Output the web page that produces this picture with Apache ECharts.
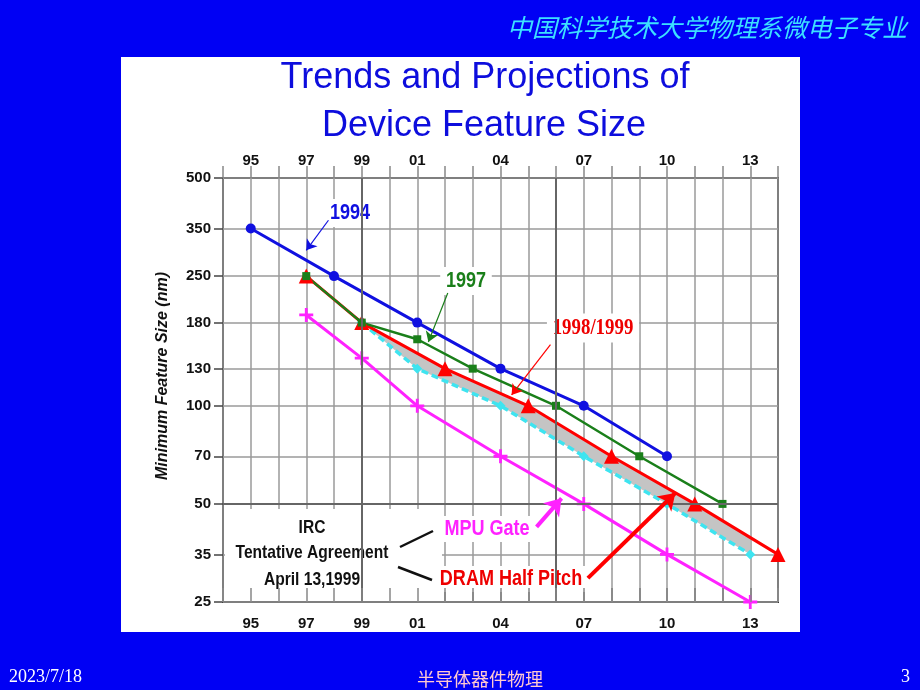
<!DOCTYPE html>
<html>
<head>
<meta charset="utf-8">
<script src="https://cdn.jsdelivr.net/npm/echarts@6/dist/echarts.min.js"></script>
<style>
html, body { margin: 0; padding: 0; background: #0000f4; }
#panel { position: absolute; left: 121px; top: 57px; width: 679px; height: 575px; background: #fff; }
#chart { position: absolute; left: 0; top: 0; width: 920px; height: 690px; }
</style>
</head>
<body>
<div id="panel"></div>
<div id="chart"></div>
<script>
// axis ticks
const yearLabels = [1995, 1997, 1999, 2001, 2004, 2007, 2010, 2013];
const sizeTicks = [25, 35, 50, 70, 100, 130, 180, 250, 350, 500];

// roadmap series (year, minimum feature size in nm)
const years1994 = [1995, 1998, 2001, 2004, 2007, 2010];
const sizes1994 = [350, 250, 180, 130, 100, 70];
const years1997 = [1997, 1999, 2001, 2003, 2006, 2009, 2012];
const sizes1997 = [250, 180, 160, 130, 100, 70, 50];
const years1999 = [1997, 1999, 2002, 2005, 2008, 2011, 2014];
const sizes1999 = [250, 180, 130, 100, 70, 50, 35];
const yearsLow = [1999, 2001, 2004, 2007, 2010, 2013];
const sizesLow = [180, 130, 100, 70, 50, 35];
const yearsMpu = [1997, 1999, 2001, 2004, 2007, 2010, 2013];
const sizesMpu = [190, 140, 100, 70, 50, 35, 25];

// annotation arrows, in data coords: [from, to]
const arrow1994 = [[1997.8, 371], [1997.0, 300]];
const arrow1997 = [[2002.1, 222], [2001.4, 157]];
const arrow1999 = [[2005.8, 154], [2004.4, 108]];
const arrowMpu = [[2005.3, 42.5], [2006.2, 52]];
const arrowDram = [[2007.15, 29.6], [2010.3, 54]];

const SANS = '"Liberation Sans", Arial, sans-serif';
const pairs = (xs, ys) => xs.map((x, i) => [x, ys[i]]);

function arrow(pts, color, width, head) {
    return {
        silent: true,
        symbol: ['none', 'arrow'],
        symbolSize: [head, head],
        label: { show: false },
        lineStyle: { color: color, width: width, type: 'solid' },
        data: [[{ coord: pts[0] }, { coord: pts[1] }]],
    };
}

// narrow bold label (the slide uses a condensed face)
function note(text, x, y, color, size, family, pad) {
    return {
        type: 'text', x: x, y: y, z: 4, scaleX: 0.82,
        style: {
            text: text, fill: color, font: 'bold ' + size + 'px ' + (family || SANS),
            align: 'center', verticalAlign: 'middle',
            backgroundColor: pad ? '#fff' : null, padding: pad || 0,
        },
    };
}

// grey band between DRAM half pitch line and the dashed lower line
function renderBand(params, api) {
    const lower = yearsLow.map((x, i) => api.coord([x, sizesLow[i]]));
    const x0 = lower[0][0], x1 = lower[lower.length - 1][0];
    const red = years1999.map((x, i) => api.coord([x, sizes1999[i]]));
    const upper = [];
    for (let i = 0; i < red.length; i++) {
        const p = red[i];
        if (p[0] >= x0 - 0.5 && p[0] <= x1) {
            upper.push(p);
        } else if (p[0] > x1 && i > 0 && red[i - 1][0] < x1) {
            const q = red[i - 1];
            const t = (x1 - q[0]) / (p[0] - q[0]);
            upper.push([x1, q[1] + t * (p[1] - q[1])]);
        }
    }
    return {
        type: 'polygon',
        shape: { points: upper.concat(lower.slice().reverse()) },
        style: { fill: '#c4c4c4' },
    };
}

const chart = echarts.init(document.getElementById('chart'), null, { renderer: 'canvas' });

const tickLabel = { fontFamily: SANS, fontWeight: 'bold', fontSize: 15, color: '#111' };
const yy = v => String(v % 100).padStart(2, '0');

chart.setOption({
    animation: false,
    backgroundColor: 'transparent',
    grid: { left: 223, top: 178, right: 142, bottom: 88, show: true, borderColor: '#333', borderWidth: 2, backgroundColor: 'transparent' },
    xAxis: [
        {
            type: 'value', position: 'bottom', min: 1994, max: 2014, interval: 1,
            axisLine: { show: false },
            axisTick: { inside: true, length: 14, lineStyle: { color: '#888', width: 1.5 } },
            axisLabel: Object.assign({ customValues: yearLabels, margin: 14, formatter: yy }, tickLabel),
            splitLine: { show: true, lineStyle: { color: '#9a9a9a', width: 1.5 } },
        },
        {
            type: 'value', position: 'top', min: 1994, max: 2014, interval: 1,
            axisLine: { show: false },
            axisTick: { inside: false, length: 12, lineStyle: { color: '#888', width: 1.5 } },
            axisLabel: Object.assign({ customValues: yearLabels, margin: 10, formatter: yy }, tickLabel),
            splitLine: { show: false },
        },
        {
            type: 'value', position: 'bottom', min: 1994, max: 2014, interval: 1, z: 6,
            axisLine: { show: false },
            axisTick: { inside: true, length: 14, lineStyle: { color: '#888', width: 1.5 } },
            axisLabel: { show: false },
            splitLine: { show: false },
        },
    ],
    yAxis: {
        type: 'log', logBase: 10, min: 25, max: 500,
        axisLine: { show: false },
        axisTick: { customValues: sizeTicks, length: 9, lineStyle: { color: '#444', width: 1.5 } },
        axisLabel: Object.assign({ customValues: sizeTicks, margin: 12, formatter: v => String(Math.round(v)) }, tickLabel),
        splitLine: { show: true, lineStyle: { color: '#9a9a9a', width: 1.5 } },
        name: 'Minimum Feature Size (nm)',
        nameLocation: 'middle',
        nameGap: 52,
        nameTextStyle: { fontFamily: SANS, fontStyle: 'italic', fontWeight: 'bold', fontSize: 16, color: '#111', padding: [0, 0, 0, 28] },
    },
    series: [
        {
            // darker guide lines of the original grid
            type: 'line', data: [], silent: true,
            markLine: {
                silent: true, symbol: 'none', label: { show: false },
                lineStyle: { color: '#666', width: 2, type: 'solid' },
                data: [{ xAxis: 1999 }, { xAxis: 2006 }, { yAxis: 50 }],
            },
        },
        {
            type: 'custom', renderItem: renderBand, silent: true,
            data: [[yearsLow[0], sizesLow[0]]],
        },
        {
            name: 'MPU Gate', type: 'line', data: pairs(yearsMpu, sizesMpu),
            symbol: 'path://M4,0h2v4h4v2h-4v4h-2v-4h-4v-2h4z', symbolSize: 14,
            lineStyle: { color: '#ff22ff', width: 3 }, itemStyle: { color: '#ff22ff' },
            markLine: arrow(arrowMpu, '#ff22ff', 4, 16),
        },
        {
            name: 'lower', type: 'line', data: pairs(yearsLow, sizesLow),
            symbol: 'diamond', symbolSize: 10,
            lineStyle: { color: '#3ee4f0', width: 3.5, type: [7, 4] }, itemStyle: { color: '#3ee4f0' },
        },
        {
            name: '1998/1999', type: 'line', data: pairs(years1999, sizes1999),
            symbol: 'triangle', symbolSize: 15,
            lineStyle: { color: '#ff0000', width: 3 }, itemStyle: { color: '#ff0000' },
            markLine: arrow(arrowDram, '#ff0000', 4, 16),
        },
        {
            name: '1997', type: 'line', data: pairs(years1997, sizes1997),
            symbol: 'rect', symbolSize: 8,
            lineStyle: { color: '#1a7f1a', width: 2.5 }, itemStyle: { color: '#1a7f1a' },
            markLine: arrow(arrow1997, '#1a7f1a', 1.2, 10),
        },
        {
            name: '1994', type: 'line', data: pairs(years1994, sizes1994),
            symbol: 'circle', symbolSize: 10,
            lineStyle: { color: '#1010e0', width: 3 }, itemStyle: { color: '#1010e0' },
            markLine: arrow(arrow1994, '#1010e0', 1.2, 10),
        },
        {
            type: 'line', data: [], silent: true,
            markLine: arrow(arrow1999, '#ff0000', 1.2, 10),
        },
    ],
    graphic: [
        // header and footer of the slide
        { type: 'text', x: 907, y: 27, z: 4, style: { text: '中国科学技术大学物理系微电子专业', fill: '#3ce0ff', font: 'italic 25px "Noto Sans CJK SC"', align: 'right', verticalAlign: 'middle' } },
        { type: 'text', x: 9, y: 677, z: 4, style: { text: '2023/7/18', fill: '#ffffff', font: '18px "Liberation Serif"', align: 'left', verticalAlign: 'middle' } },
        { type: 'text', x: 480, y: 679, z: 4, style: { text: '半导体器件物理', fill: '#ffc8d0', font: '18px "Noto Sans CJK SC"', align: 'center', verticalAlign: 'middle' } },
        { type: 'text', x: 910, y: 677, z: 4, style: { text: '3', fill: '#ffffff', font: '18px "Liberation Serif"', align: 'right', verticalAlign: 'middle' } },
        // title
        { type: 'text', x: 485, y: 78, z: 4, style: { text: 'Trends and Projections of', fill: '#0d0ddd', font: '36px ' + SANS, align: 'center', verticalAlign: 'middle' } },
        { type: 'text', x: 484, y: 126, z: 4, style: { text: 'Device Feature Size', fill: '#0d0ddd', font: '36px ' + SANS, align: 'center', verticalAlign: 'middle' } },
        // blank box behind the agreement note
        { type: 'rect', z: 3, shape: { x: 225, y: 509, width: 217, height: 92 }, style: { fill: '#fff' } },
        note('IRC', 312, 528, '#111', 19),
        note('Tentative Agreement', 312, 553, '#111', 19),
        note('April 13,1999', 312, 580, '#111', 19),
        { type: 'line', z: 4, shape: { x1: 400, y1: 547, x2: 433, y2: 531 }, style: { stroke: '#111', lineWidth: 2.5 } },
        { type: 'line', z: 4, shape: { x1: 398, y1: 567, x2: 432, y2: 580 }, style: { stroke: '#111', lineWidth: 2.5 } },
        // series labels
        note('1994', 350, 213, '#1010e0', 22, null, [3, 7]),
        note('1997', 466, 281, '#1a7f1a', 22, null, [3, 7]),
        note('1998/1999', 593, 328, '#ee0000', 23, '"Liberation Serif", serif', [3, 7]),
        note('MPU Gate', 487, 529, '#ff22ff', 22, null, [2, 5]),
        note('DRAM Half Pitch', 511, 579, '#ee0000', 22, null, [2, 5]),
    ],
});
</script>
</body>
</html>
